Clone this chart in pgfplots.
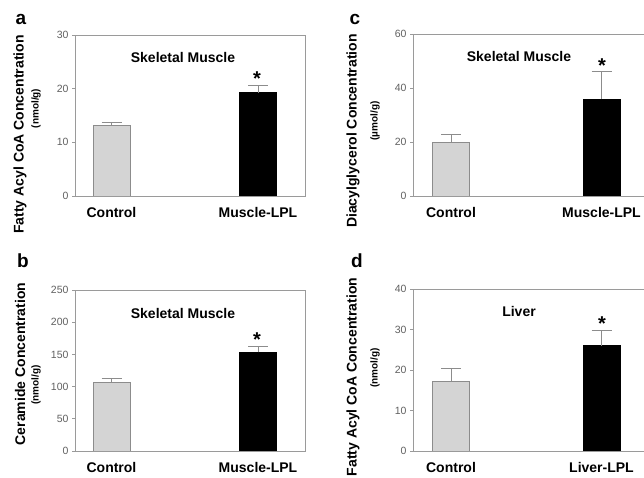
\documentclass[border=0pt]{standalone}
\usepackage{pgfplots}
\pgfplotsset{compat=1.18}
\usepackage{fontspec}
\setmainfont{Liberation Sans}
\definecolor{ctrl}{HTML}{D4D4D4}
\definecolor{edge}{HTML}{8C8C8C}
\definecolor{axgray}{HTML}{9A9A9A}
\definecolor{ticktext}{HTML}{606060}
\pgfplotsset{panel/.style={
  scale only axis, anchor=south west,
  xmin=0, ymin=0,
  axis line style={axgray, line width=0.9pt},
  ytick pos=left,
  ytick style={axgray, line width=0.8pt}, tick align=outside, major tick length=3pt,
  xtick style={draw=none},
  yticklabel style={font=\fontsize{10.5}{11}\selectfont, text=ticktext},
  xticklabel style={font=\bfseries\fontsize{14}{14}\selectfont, yshift=-5pt},
  /pgf/number format/assume math mode=true,
  ybar, bar shift=0pt, bar width=37pt,
  error bars/y dir=plus, error bars/y explicit,
  error bars/error bar style={edge, line width=0.9pt},
  error bars/error mark options={rotate=90, mark size=10pt, edge, line width=0.9pt},
}}
\tikzset{ttl/.style={font=\bfseries\fontsize{14}{14}\selectfont},
  yl/.style={font=\bfseries\fontsize{14}{14}\selectfont, rotate=90},
  un/.style={font=\bfseries\fontsize{10}{10}\selectfont, rotate=90},
  pl/.style={font=\bfseries\fontsize{19}{19}\selectfont, anchor=base},
  st/.style={font=\bfseries\fontsize{20}{20}\selectfont, inner sep=0pt}}
\begin{document}
\begin{tikzpicture}
% panel a
\begin{axis}[panel, at={(75pt,282pt)}, width=230pt, height=161pt, xmax=230, ymax=30,
  ytick={0,10,20,30}, xtick={36.5,183}, xticklabels={Control,Muscle-LPL}]
\addplot[fill=ctrl, draw=edge, line width=0.8pt] coordinates {(36.5,13.1) +- (0,0.6)};
\addplot[fill=black, draw=black] coordinates {(183,19.25) +- (0,1.3)};
\end{axis}
% panel b
\begin{axis}[panel, at={(75pt,27pt)}, width=230pt, height=161pt, xmax=230, ymax=250,
  ytick={0,50,100,150,200,250}, xtick={36.5,183}, xticklabels={Control,Muscle-LPL}]
\addplot[fill=ctrl, draw=edge, line width=0.8pt] coordinates {(36.5,106.7) +- (0,6.2)};
\addplot[fill=black, draw=black] coordinates {(183,153.3) +- (0,9.7)};
\end{axis}
% panel c
\begin{axis}[panel, at={(413pt,282pt)}, width=232pt, height=162pt, xmax=232, ymax=60,
  ytick={0,20,40,60}, xtick={38,188.5}, xticklabels={Control,Muscle-LPL}]
\addplot[fill=ctrl, draw=edge, line width=0.8pt] coordinates {(38,20) +- (0,2.7)};
\addplot[fill=black, draw=black] coordinates {(188.5,35.9) +- (0,10.1)};
\end{axis}
% panel d
\begin{axis}[panel, at={(413pt,27pt)}, width=232pt, height=162pt, xmax=232, ymax=40,
  ytick={0,10,20,30,40}, xtick={38,188.5}, xticklabels={Control,Liver-LPL}]
\addplot[fill=ctrl, draw=edge, line width=0.8pt] coordinates {(38,17.3) +- (0,3.1)};
\addplot[fill=black, draw=black] coordinates {(188.5,26.0) +- (0,3.7)};
\end{axis}
% titles
\node[ttl] at (183pt,420pt) {Skeletal Muscle};
\node[ttl] at (183pt,165pt) {Skeletal Muscle};
\node[ttl] at (519pt,421pt) {Skeletal Muscle};
\node[ttl] at (519pt,166pt) {Liver};
% asterisks
\node[st, anchor=base] at (257pt,392pt) {*};
\node[st, anchor=base] at (257pt,131pt) {*};
\node[st, anchor=base] at (602pt,405pt) {*};
\node[st, anchor=base] at (602pt,147pt) {*};
% y labels
\node[yl] at (20pt,343.5pt) {Fatty Acyl CoA Concentration};
\node[un] at (36pt,369.5pt) {(nmol/g)};
\node[yl] at (20pt,114pt) {Ceramide Concentration};
\node[un] at (36pt,93pt) {(nmol/g)};
\node[yl] at (353pt,347pt) {Diacylglycerol Concentration};
\node[un] at (375pt,357pt) {(µmol/g)};
\node[yl] at (353pt,101pt) {Fatty Acyl CoA Concentration};
\node[un] at (375pt,110pt) {(nmol/g)};
% panel letters
\node[pl] at (21pt,453pt) {a};
\node[pl] at (23pt,210pt) {b};
\node[pl] at (355pt,453pt) {c};
\node[pl] at (357pt,210pt) {d};
\pgfresetboundingbox
\useasboundingbox (0pt,0pt) rectangle (644pt,478pt);
\end{tikzpicture}
\end{document}
